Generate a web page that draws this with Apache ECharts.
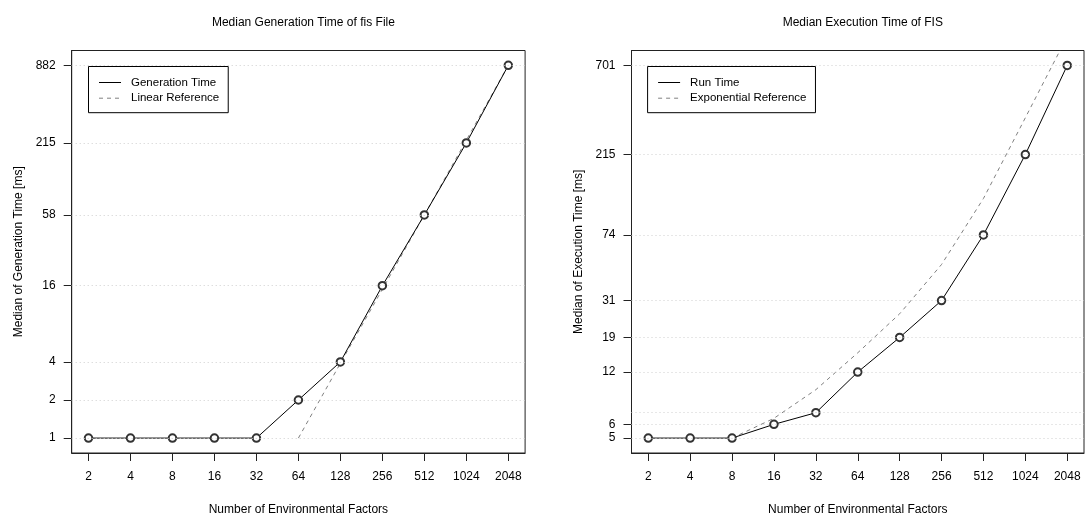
<!DOCTYPE html>
<html>
<head>
<meta charset="utf-8">
<script src="https://cdn.jsdelivr.net/npm/echarts@6/dist/echarts.min.js"></script>
<style>
  html,body{margin:0;padding:0;background:#fff;}
  #chart{width:1085px;height:521px;}
</style>
</head>
<body>
<div id="chart"></div>
<script>
// number of environmental factors (x for both panels)
const factors = [2, 4, 8, 16, 32, 64, 128, 256, 512, 1024, 2048]
// left panel: median generation time of fis file [ms]
const genTime = [1, 1, 1, 1, 1, 2, 4, 16, 58, 215, 882]
const linearRefFactors = [64, 128, 256, 512, 1024, 2048]
const linearRef = [1, 3.9, 15, 58, 226, 882]
const genTicks = [1, 2, 4, 16, 58, 215, 882]
// right panel: median execution time of FIS [ms]
const runTime = [5, 5, 5, 6, 7, 12, 19, 31, 74, 215, 701]
const expRefFactors = [8, 16, 32, 64, 128, 256, 512, 1024, 2048]
const expRef = [5, 6.5, 9.5, 15.5, 26, 50, 120, 350, 1030]
const runTicks = [5, 6, 12, 19, 31, 74, 215, 701]
const runGridValues = [5, 6, 7, 12, 19, 31, 74, 215, 701]

const FONT = 'Liberation Sans, Arial, sans-serif'
const pairs = (xs, ys) => xs.map((x, i) => [x, ys[i]])

function xAxisFor(gridIndex) {
  return {
    type: 'log', logBase: 2, gridIndex: gridIndex,
    min: Math.pow(2, 0.6), max: Math.pow(2, 11.4),
    name: 'Number of Environmental Factors',
    nameLocation: 'middle', nameGap: 51,
    nameTextStyle: {color: '#000', fontSize: 12, fontFamily: FONT},
    axisLine: {show: true, lineStyle: {color: '#222', width: 1}},
    axisTick: {show: true, inside: false, length: 8, customValues: factors, lineStyle: {color: '#222'}},
    axisLabel: {customValues: factors, margin: 18, color: '#000', fontSize: 12, fontFamily: FONT,
      formatter: v => String(Math.round(v))},
    splitLine: {show: false},
    minorTick: {show: false}
  }
}

function yAxisFor(gridIndex, name, ticks, min, max) {
  return {
    type: 'log', gridIndex: gridIndex, min: min, max: max,
    name: name, nameLocation: 'middle', nameGap: 47,
    nameTextStyle: {color: '#000', fontSize: 12, fontFamily: FONT},
    axisLine: {show: true, lineStyle: {color: '#222', width: 1}},
    axisTick: {show: true, inside: false, length: 8, customValues: ticks, lineStyle: {color: '#222'}},
    axisLabel: {customValues: ticks, margin: 16, color: '#000', fontSize: 12, fontFamily: FONT,
      formatter: v => String(Math.round(v))},
    splitLine: {show: false},
    minorTick: {show: false}
  }
}

// dotted horizontal guide lines at the measured values
function gridSeries(i, values) {
  return {
    type: 'line', name: 'grid' + i, xAxisIndex: i, yAxisIndex: i, data: [], silent: true, z: 1,
    markLine: {
      silent: true, symbol: 'none', animation: false,
      label: {show: false},
      lineStyle: {type: [1, 3], color: '#cfcfcf', width: 1},
      data: values.map(v => ({yAxis: v}))
    }
  }
}

function mainSeries(i, name, xs, ys) {
  return {
    type: 'line', name: name, xAxisIndex: i, yAxisIndex: i,
    data: pairs(xs, ys), z: 3,
    symbol: 'emptyCircle', symbolSize: 7.5, showAllSymbol: true,
    lineStyle: {color: '#000', width: 1},
    itemStyle: {color: '#333', borderWidth: 0.7}
  }
}

function refSeries(i, name, xs, ys) {
  return {
    type: 'line', name: name, xAxisIndex: i, yAxisIndex: i,
    data: pairs(xs, ys), z: 2, symbol: 'none',
    lineStyle: {color: '#808080', width: 1, type: [4, 4]},
    itemStyle: {color: '#808080'}
  }
}

function legendFor(left, names) {
  return {
    data: names, orient: 'vertical', left: left, top: 66.5,
    padding: [10, 9, 8.5, 10], itemWidth: 22, itemHeight: 10, itemGap: 3.7,
    borderColor: '#000', borderWidth: 1, borderRadius: 0,
    selectedMode: false,
    itemStyle: {opacity: 0},
    lineStyle: {width: 1},
    textStyle: {color: '#000', fontSize: 11.5, fontFamily: FONT, padding: [0, 0, 0, 5]}
  }
}

function initChart() {
  const chart = echarts.init(document.getElementById('chart'))
  const option = {
    backgroundColor: '#fff',
    animation: false,
    title: [
      {text: 'Median Generation Time of fis File', left: 298.4, top: 12, textAlign: 'center',
        textStyle: {color: '#000', fontSize: 12, fontWeight: 'normal', fontFamily: FONT}},
      {text: 'Median Execution Time of FIS', left: 857.8, top: 12, textAlign: 'center',
        textStyle: {color: '#000', fontSize: 12, fontWeight: 'normal', fontFamily: FONT}}
    ],
    legend: [
      legendFor(88.5, ['Generation Time', 'Linear Reference']),
      legendFor(647.6, ['Run Time', 'Exponential Reference'])
    ],
    grid: [
      {left: 71.7, top: 50.5, width: 453.4, height: 406.8, show: true, borderColor: '#222', borderWidth: 1, containLabel: false},
      {left: 631.5, top: 50.5, width: 452.5, height: 406.8, show: true, borderColor: '#222', borderWidth: 1, containLabel: false}
    ],
    xAxis: [xAxisFor(0), xAxisFor(1)],
    yAxis: [
      yAxisFor(0, 'Median of Generation Time [ms]', genTicks, 0.7624, 1156),
      yAxisFor(1, 'Median of Execution Time [ms]', runTicks, 4.103, 854.3)
    ],
    series: [
      gridSeries(0, genTicks),
      refSeries(0, 'Linear Reference', linearRefFactors, linearRef),
      mainSeries(0, 'Generation Time', factors, genTime),
      gridSeries(1, runGridValues),
      refSeries(1, 'Exponential Reference', expRefFactors, expRef),
      mainSeries(1, 'Run Time', factors, runTime)
    ]
  }
  chart.setOption(option)
}

initChart()
</script>
</body>
</html>
